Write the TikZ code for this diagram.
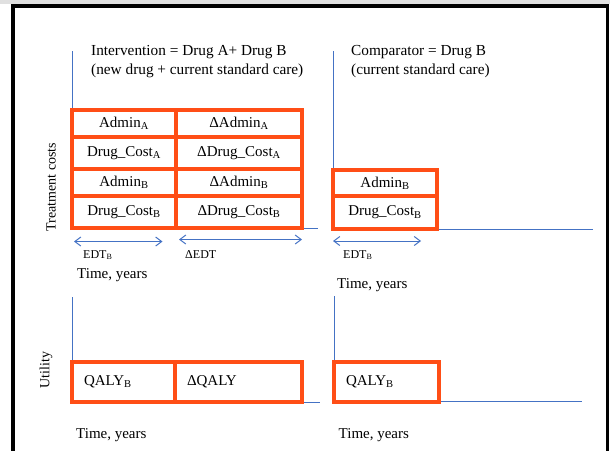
\documentclass[tikz,border=0pt]{standalone}
\usepackage{fontspec}
\setmainfont{Liberation Serif}
\usetikzlibrary{positioning,arrows.meta}

\definecolor{axisblue}{RGB}{68,114,196}
\definecolor{boxorange}{RGB}{255,78,22}

\tikzset{
  cell/.style={draw=boxorange, line width=3.4pt, inner sep=0pt, outer sep=0pt,
    font=\fontsize{15}{17}\selectfont},
  qcell/.style={cell, inner xsep=12pt, text width=#1, align=left},
  axisline/.style={draw=axisblue, line width=0.7pt},
  dimarrow/.style={axisblue, line width=1pt,
    {Straight Barb[length=6pt,width=9pt]}-{Straight Barb[length=6pt,width=9pt]}},
  txt/.style={inner sep=0pt, anchor=base west, font=\fontsize{15}{17}\selectfont},
  smalltxt/.style={inner sep=0pt, anchor=base west, font=\fontsize{12}{14}\selectfont},
}

\begin{document}
\begin{tikzpicture}[x=1pt,y=-1pt]
  % page and frame
  \useasboundingbox (0,0) rectangle (610,450);
  \fill[black!12] (0,0) rectangle (610,4);
  \begin{scope}
    \clip (0,0) rectangle (610,450);
    \draw[line width=3.2pt] (13,6) rectangle (607.5,470);
  \end{scope}

  % headings
  \node[txt, anchor=north west, align=left, font=\fontsize{15.3}{19}\selectfont] (interv) at (91,45)
    {Intervention = Drug A+ Drug B\\(new drug + current standard care)};
  \node[txt, anchor=north west, align=left, font=\fontsize{15.3}{19}\selectfont] (compar) at (351,45)
    {Comparator = Drug B\\(current standard care)};

  % axes, treatment costs
  \coordinate (ttop) at (72,51);
  \coordinate (torig) at (72,228);
  \coordinate (tend) at (318,228);
  \coordinate (ctop) at (333,51);
  \coordinate (corig) at (333,229);
  \coordinate (cend) at (593,229);
  \draw[axisline] (ttop) -- (torig) -- (tend);
  \draw[axisline] (ctop) -- (corig) -- (cend);

  % axes, utility
  \coordinate (utop) at (72,297);
  \coordinate (uorig) at (72,402);
  \coordinate (uend) at (320,402);
  \coordinate (cutop) at (334,296);
  \coordinate (cuorig) at (334,401);
  \coordinate (cuend) at (582,401);
  \draw[axisline] (utop) -- (uorig) -- (uend);
  \draw[axisline] (cutop) -- (cuorig) -- (cuend);

  % axis titles
  \node[txt, anchor=center, rotate=90, font=\fontsize{14}{16}\selectfont] (tcost) at (51,187) {Treatment costs};
  \node[txt, anchor=center, rotate=90, font=\fontsize{14}{16}\selectfont] (util) at (46,370) {Utility};

  % intervention cost cells
  \node[cell, minimum width=104pt, minimum height=27pt, anchor=north west] (adminA) at (72,110) {Admin\textsubscript{A}};
  \node[cell, minimum width=104pt, minimum height=32pt, below=0pt of adminA] (costA) {Drug\_Cost\textsubscript{A}};
  \node[cell, minimum width=104pt, minimum height=27pt, below=0pt of costA] (adminB) {Admin\textsubscript{B}};
  \node[cell, minimum width=104pt, minimum height=32pt, below=0pt of adminB] (costB) {Drug\_Cost\textsubscript{B}};
  \node[cell, minimum width=126pt, minimum height=27pt, right=0pt of adminA] (dadminA) {ΔAdmin\textsubscript{A}};
  \node[cell, minimum width=126pt, minimum height=32pt, right=0pt of costA] (dcostA) {ΔDrug\_Cost\textsubscript{A}};
  \node[cell, minimum width=126pt, minimum height=27pt, right=0pt of adminB] (dadminB) {ΔAdmin\textsubscript{B}};
  \node[cell, minimum width=126pt, minimum height=32pt, right=0pt of costB] (dcostB) {ΔDrug\_Cost\textsubscript{B}};

  % comparator cost cells
  \node[cell, minimum width=104pt, minimum height=26pt, anchor=north west] (cadminB) at (333,170) {Admin\textsubscript{B}};
  \node[cell, minimum width=104pt, minimum height=33pt, below=0pt of cadminB] (ccostB) {Drug\_Cost\textsubscript{B}};

  % durations
  \coordinate (edtL) at (74,241.5);
  \coordinate (edtR) at (162.5,241.5);
  \coordinate (dedtL) at (179,239.5);
  \coordinate (dedtR) at (302,239.5);
  \coordinate (cedtL) at (333,241);
  \coordinate (cedtR) at (421,241);
  \draw[dimarrow] (edtL) -- (edtR);
  \draw[dimarrow] (dedtL) -- (dedtR);
  \draw[dimarrow] (cedtL) -- (cedtR);
  \node[smalltxt] (edt) at (83,258) {EDT\textsubscript{B}};
  \node[smalltxt] (dedt) at (185,258) {ΔEDT};
  \node[smalltxt] (cedt) at (343,258) {EDT\textsubscript{B}};

  % utility cells
  \node[qcell=79pt, minimum width=103pt, minimum height=40pt, anchor=north west] (qalyB) at (72,362) {QALY\textsubscript{B}};
  \node[qcell=103pt, minimum width=127pt, minimum height=40pt, right=0pt of qalyB] (dqaly) {ΔQALY};
  \node[qcell=81pt, minimum width=105pt, minimum height=40pt, anchor=north west] (cqalyB) at (334,362) {QALY\textsubscript{B}};

  % time labels
  \node[txt] (timeT) at (77,278) {Time, years};
  \node[txt] (timeC) at (337,288) {Time, years};
  \node[txt] (timeU) at (76,438) {Time, years};
  \node[txt] (timeCU) at (338.5,438) {Time, years};
\end{tikzpicture}
\end{document}
